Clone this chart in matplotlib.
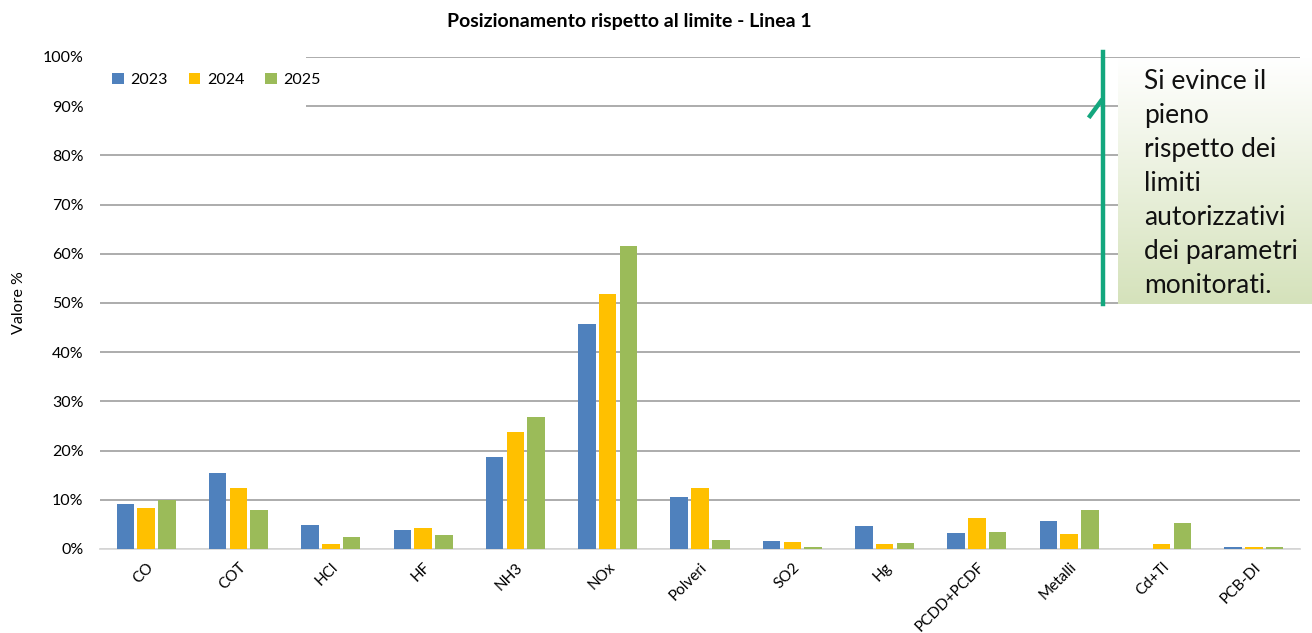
import numpy as np
import matplotlib.pyplot as plt
from matplotlib.lines import Line2D
from matplotlib.patches import Rectangle

plt.rcParams['font.family'] = ['Lato', 'DejaVu Sans']

categorie = ['CO', 'COT', 'HCl', 'HF', 'NH3', 'NOx', 'Polveri', 'SO2', 'Hg',
             'PCDD+PCDF', 'Metalli', 'Cd+Tl', 'PCB-DI']
v2023 = [9.1, 15.5, 4.9, 3.9, 18.8, 45.8, 10.6, 1.6, 4.7, 3.3, 5.6, 0.05, 0.4]
v2024 = [8.3, 12.5, 1.1, 4.3, 23.7, 51.9, 12.5, 1.4, 1.1, 6.4, 3.0, 1.0, 0.4]
v2025 = [10.0, 7.9, 2.4, 2.8, 26.9, 61.6, 1.8, 0.4, 1.3, 3.4, 7.9, 5.2, 0.4]
anni = ['2023', '2024', '2025']
colori = ['#4F81BD', '#FFC000', '#9BBB59']

nota = "Si evince il\npieno\nrispetto dei\nlimiti\nautorizzativi\ndei parametri\nmonitorati."

fig = plt.figure(figsize=(13.12, 6.33), dpi=100)
ax = fig.add_axes([100/1312, 1-549/633, 1200/1312, (549-57)/633])

x = np.arange(len(categorie))
w = 0.19
for i, (serie, c, lab) in enumerate(zip([v2023, v2024, v2025], colori, anni)):
    ax.bar(x + (i-1)*0.225, serie, width=w, color=c, label=lab, zorder=3)

ax.set_xlim(-0.5, len(categorie)-0.5)
ax.set_ylim(0, 100)
ax.set_yticks(np.arange(0, 101, 10))
ax.set_yticklabels([f'{v}%' for v in range(0, 101, 10)], fontsize=11.5)
ax.set_xticks(x)
ax.set_xticklabels(categorie, rotation=45, ha='right', rotation_mode='anchor', fontsize=11)
ax.tick_params(axis='y', length=0, pad=12)
ax.tick_params(axis='x', length=0, pad=8)
ax.grid(axis='y', color='#a6a6a6', linewidth=1.3, zorder=0)
for s in ['top', 'right', 'left']:
    ax.spines[s].set_visible(False)
ax.spines['bottom'].set_color('#d9d9d9')
ax.spines['bottom'].set_linewidth(1.3)
ax.spines['bottom'].set_zorder(2)

ax.set_ylabel('Valore %', fontsize=11.5)
ax.yaxis.set_label_coords(-74/1200, 0.5)

# fondo bianco dietro la legenda (copre la griglia)
ax.add_patch(Rectangle((0, 0.86), 206/1200, 0.16, transform=ax.transAxes,
                       facecolor='white', edgecolor='none', zorder=2.5, clip_on=False))
leg = ax.legend(loc='center left', ncol=3, fontsize=11.5, frameon=False,
                bbox_to_anchor=(12/1200, (549-80)/492), handlelength=0.75, handleheight=0.75,
                handletextpad=0.4, columnspacing=1.3, borderpad=0, borderaxespad=0)
leg.set_zorder(5)

fig.text(629/1312, 1-22/633, 'Posizionamento rispetto al limite - Linea 1',
         ha='center', va='center', fontsize=14, fontweight='bold')

# riquadro con sfumatura verde
grad = np.linspace(0, 1, 256).reshape(-1, 1)
top = np.array([1.0, 1.0, 1.0])
bot = np.array([0xd5, 0xe2, 0xbb]) / 255
img = top + (bot - top) * grad[:, :, None]
gax = fig.add_axes([1118/1312, 1-304/633, 194/1312, (304-58)/633])
gax.imshow(img, aspect='auto', extent=[0, 1, 0, 1])
gax.axis('off')
gax.text(26/194, 1-(69-58)/246, nota, ha='left', va='top', fontsize=19,
         linespacing=1.45, color='#111111', transform=gax.transAxes)

fig.add_artist(Line2D([1103/1312, 1103/1312], [1-52/633, 1-304/633],
                      color='#13A77E', linewidth=3.2))
fig.add_artist(Line2D([1090/1312, 1101/1312], [1-116/633, 1-101/633],
                      color='#13A77E', linewidth=3.2))

fig.savefig('out.png', dpi=100)
